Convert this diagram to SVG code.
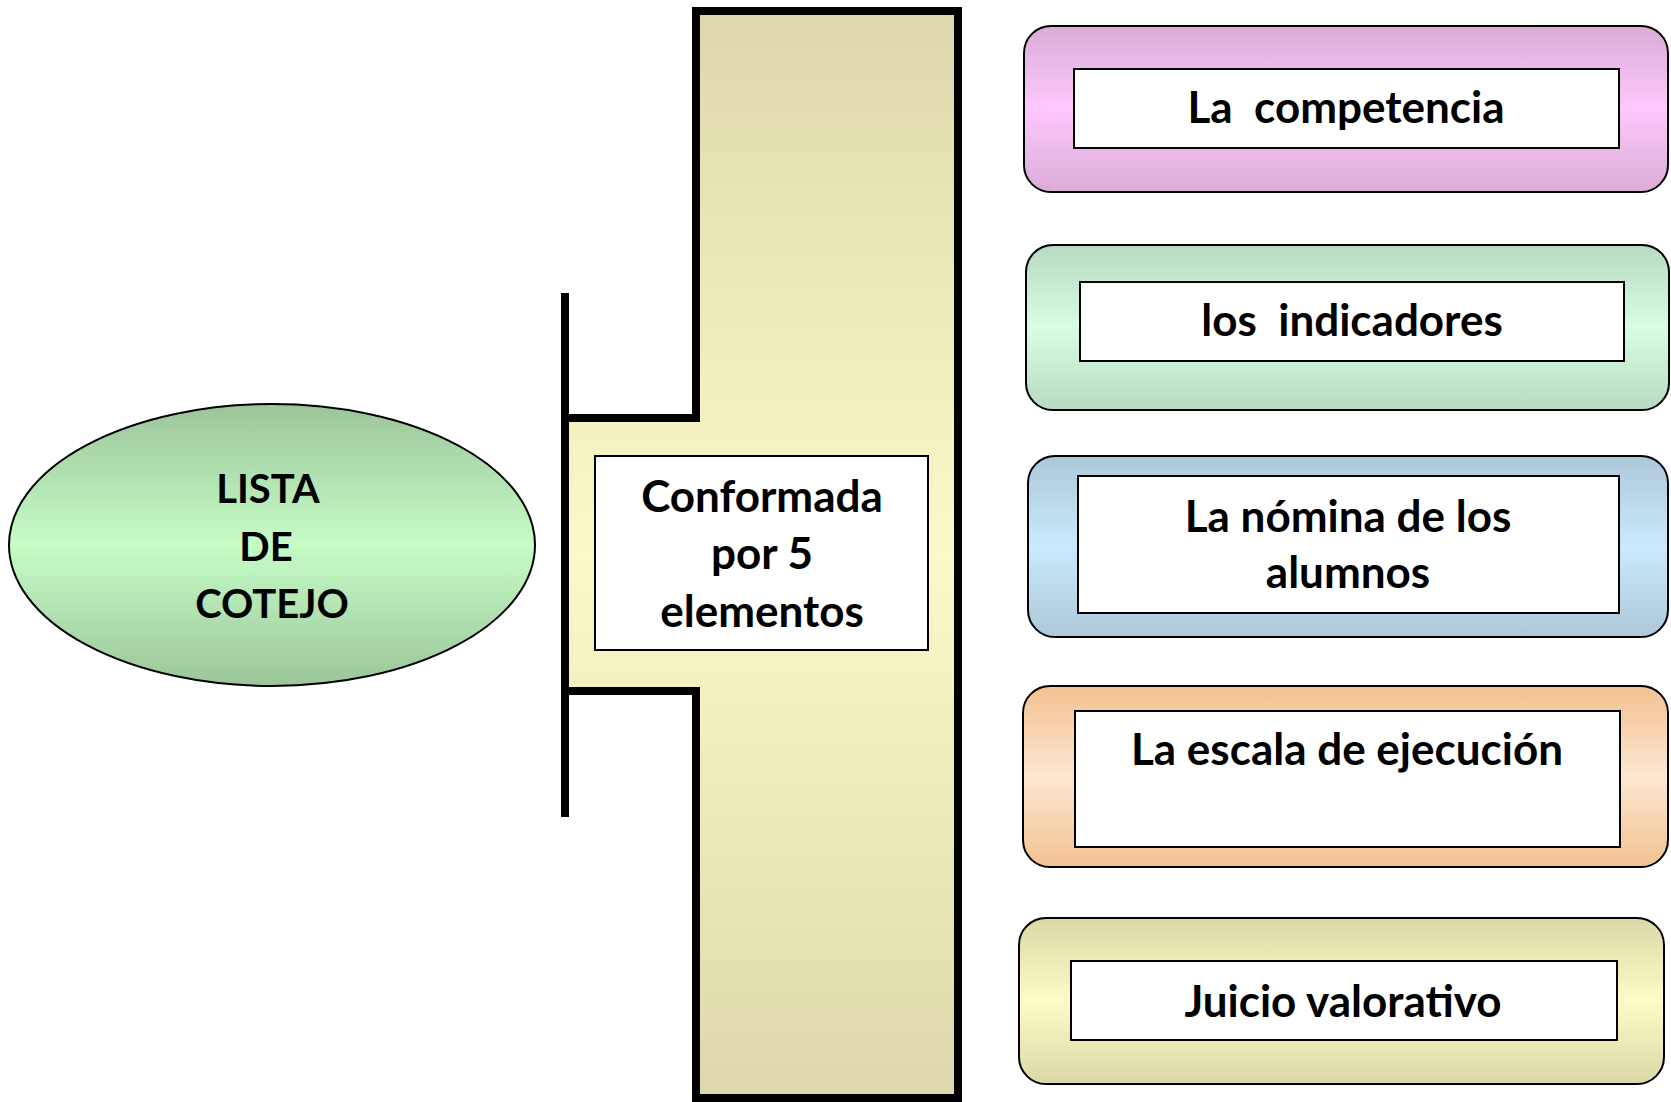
<svg xmlns="http://www.w3.org/2000/svg" width="1671" height="1102" viewBox="0 0 1671 1102">
<style>
.t{font-family:Lato,"Open Sans","Liberation Sans",sans-serif;font-weight:bold;font-size:44px;fill:#000;text-anchor:middle;white-space:pre}
.c{font-size:40px}
.outer{stroke:#000;stroke-width:2}
.inner{fill:#fff;stroke:#000;stroke-width:2}
</style>
<defs>
<linearGradient id="gY" x1="0" y1="0" x2="0" y2="1"><stop offset="0" stop-color="#dcd8ab"/><stop offset="0.5" stop-color="#fbf9c9"/><stop offset="1" stop-color="#dcd8ab"/></linearGradient>
<linearGradient id="gE" x1="0" y1="0" x2="0" y2="1"><stop offset="0" stop-color="#9bc59a"/><stop offset="0.5" stop-color="#c6fcc6"/><stop offset="1" stop-color="#9bc59a"/></linearGradient>
<linearGradient id="g1" x1="0" y1="0" x2="0" y2="1"><stop offset="0" stop-color="#dbacd6"/><stop offset="0.5" stop-color="#fdc8fd"/><stop offset="1" stop-color="#dbacd6"/></linearGradient>
<linearGradient id="g2" x1="0" y1="0" x2="0" y2="1"><stop offset="0" stop-color="#b8d9c2"/><stop offset="0.5" stop-color="#d8fde4"/><stop offset="1" stop-color="#b8d9c2"/></linearGradient>
<linearGradient id="g3" x1="0" y1="0" x2="0" y2="1"><stop offset="0" stop-color="#adc8d9"/><stop offset="0.5" stop-color="#c9eafd"/><stop offset="1" stop-color="#adc8d9"/></linearGradient>
<linearGradient id="g4" x1="0" y1="0" x2="0" y2="1"><stop offset="0" stop-color="#f2c292"/><stop offset="0.5" stop-color="#fde6d0"/><stop offset="1" stop-color="#f2c292"/></linearGradient>
<linearGradient id="g5" x1="0" y1="0" x2="0" y2="1"><stop offset="0" stop-color="#dad8a6"/><stop offset="0.5" stop-color="#fdfcc8"/><stop offset="1" stop-color="#dad8a6"/></linearGradient>
</defs>
<rect width="1671" height="1102" fill="#fff"/>

<g id="lista">
<ellipse cx="272" cy="545" rx="263" ry="141" fill="url(#gE)" stroke="#000" stroke-width="2"/>
<text class="t c" x="268" y="503">LISTA</text>
<text class="t c" x="266" y="561">DE</text>
<text class="t c" x="272" y="618">COTEJO</text>
</g>

<g id="connectors">
<line x1="565" y1="293" x2="565" y2="817" stroke="#000" stroke-width="8"/>
</g>

<g id="conformada">
<path d="M696,11 H958 V1098 H696 V691 H565 V418 H696 Z" fill="url(#gY)" stroke="#000" stroke-width="8" stroke-linejoin="miter"/>
<rect class="inner" x="595" y="456" width="333" height="194"/>
<text class="t" x="762" y="512">Conformada</text>
<text class="t" x="762" y="569">por 5</text>
<text class="t" x="762" y="627">elementos</text>
</g>

<g id="competencia">
<rect class="outer" x="1024" y="26" width="644" height="166" rx="27" fill="url(#g1)"/>
<rect class="inner" x="1074" y="69" width="545" height="79"/>
<text class="t" x="1346" y="123">La  competencia</text>
</g>

<g id="indicadores">
<rect class="outer" x="1026" y="245" width="643" height="165" rx="27" fill="url(#g2)"/>
<rect class="inner" x="1080" y="282" width="544" height="79"/>
<text class="t" x="1352" y="336">los  indicadores</text>
</g>

<g id="nomina">
<rect class="outer" x="1028" y="456" width="640" height="181" rx="27" fill="url(#g3)"/>
<rect class="inner" x="1078" y="476" width="541" height="137"/>
<text class="t" x="1348" y="532">La nómina de los</text>
<text class="t" x="1348" y="588">alumnos</text>
</g>

<g id="escala">
<rect class="outer" x="1023" y="686" width="645" height="181" rx="27" fill="url(#g4)"/>
<rect class="inner" x="1075" y="711" width="545" height="136"/>
<text class="t" x="1347" y="765">La escala de ejecución</text>
</g>

<g id="juicio">
<rect class="outer" x="1019" y="918" width="645" height="166" rx="27" fill="url(#g5)"/>
<rect class="inner" x="1071" y="961" width="546" height="79"/>
<text class="t" x="1343" y="1017">Juicio valorativo</text>
</g>
</svg>
